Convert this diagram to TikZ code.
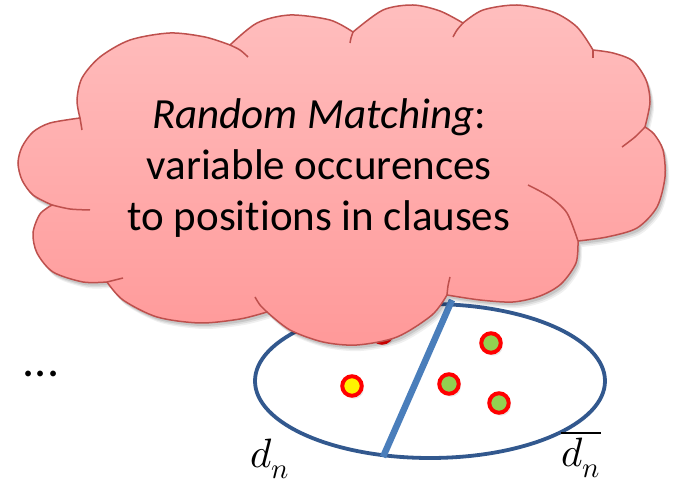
\documentclass[tikz,border=0pt]{standalone}
\usepackage{fontspec}
\usepackage{unicode-math}
\setmainfont{Carlito}[Ligatures=NoCommon]
\setmathfont{Latin Modern Math}
\usetikzlibrary{shadows}
\definecolor{cloudline}{RGB}{190,80,77}
\definecolor{cloudtop}{RGB}{255,190,190}
\definecolor{cloudbot}{RGB}{255,153,153}
\definecolor{ellblue}{RGB}{50,88,142}
\definecolor{divblue}{RGB}{74,126,187}
\definecolor{dotgreen}{RGB}{146,208,80}
\newcommand\cloudshape[1]{%
\path[#1]
 plot[smooth] coordinates {(80,118) (77,100) (82,78) (100,57) (130,40) (170,33) (205,37) (230,45)}
 -- plot[smooth] coordinates {(230,45) (257,23) (290,15) (330,20) (353,32)}
 -- plot[smooth] coordinates {(353,32) (383,10) (413,5) (440,11) (463,23)}
 -- plot[smooth] coordinates {(463,23) (483,10) (517,5) (553,12) (577,27) (593,50)}
 -- plot[smooth] coordinates {(593,50) (613,53) (633,61) (646,80) (650,102) (645,127)}
 -- plot[smooth] coordinates {(645,127) (654,134) (663,150) (665,177) (657,207) (637,228) (607,237) (578,241)}
 -- plot[smooth] coordinates {(578,241) (576,263) (561,284) (540,296) (513,302) (480,300) (447,295)}
 -- plot[smooth] coordinates {(447,295) (432,315) (397,337) (357,345) (323,342) (290,330) (267,312)}
 -- plot[smooth] coordinates {(267,312) (240,319) (200,323) (157,317) (123,300) (107,282)}
 -- plot[smooth] coordinates {(107,282) (83,282) (53,272) (37,253) (33,233) (40,214) (52,205)}
 -- plot[smooth] coordinates {(52,205) (33,195) (22,180) (18,163) (22,147) (33,132) (50,123) (80,118)}
 -- cycle;}
\tikzset{
  dotnode/.style={circle, draw=red, line width=4pt, minimum size=19.5pt, inner sep=0pt,
    drop shadow={opacity=0.18, shadow xshift=2pt, shadow yshift=-3pt}},
  innerarc/.style={draw=cloudline, line width=1.5pt},
  bigtext/.style={font=\fontsize{43}{51}\selectfont, align=center, inner sep=0pt},
  labeltext/.style={font=\fontsize{41}{45}\selectfont, inner sep=0pt, anchor=base}
}
\begin{document}
\begin{tikzpicture}[x=1pt, y=-1pt]
\useasboundingbox[fill=white] (0,0) rectangle (673,486);
% ellipse and divider
\draw[ellblue, line width=3.8pt] (430,381) ellipse (175pt and 77pt);
\coordinate (lbot) at (383,457);
\coordinate (ltop) at (452,300);
\draw[divblue, line width=6.5pt] (lbot) -- (ltop);
% dots
\node[dotnode, fill=red] (d0) at (382,333) {};
\node[dotnode, fill=yellow] (d1) at (352,386) {};
\node[dotnode, fill=dotgreen] (d2) at (449,384) {};
\node[dotnode, fill=dotgreen] (d3) at (491,343) {};
\node[dotnode, fill=dotgreen] (d4) at (499,403) {};
% cloud shadow
\begin{scope}[shift={(4,6)}]\cloudshape{fill=black, opacity=0.06}\end{scope}
\begin{scope}[shift={(3,4.5)}]\cloudshape{fill=black, opacity=0.08}\end{scope}
\begin{scope}[shift={(2,3)}]\cloudshape{fill=black, opacity=0.10}\end{scope}
% cloud
\cloudshape{top color=cloudtop, bottom color=cloudbot, draw=cloudline, line width=1.5pt}
% inner arcs of the cloud
\draw[innerarc] plot[smooth] coordinates {(80,118) (81,124) (82,130)};
\draw[innerarc] plot[smooth] coordinates {(52,205) (70,209) (90,210)};
\draw[innerarc] plot[smooth] coordinates {(107,282) (115,280) (123,278)};
\draw[innerarc] plot[smooth] coordinates {(267,312) (260,305) (255,297)};
\draw[innerarc] plot[smooth] coordinates {(447,295) (448,286) (450,277)};
\draw[innerarc] plot[smooth] coordinates {(578,241) (567,213) (550,197) (528,185)};
\draw[innerarc] plot[smooth] coordinates {(645,127) (635,137) (622,147)};
\draw[innerarc] plot[smooth] coordinates {(593,50) (593,54) (593,58)};
\draw[innerarc] plot[smooth] coordinates {(463,23) (457,30) (453,37)};
\draw[innerarc] plot[smooth] coordinates {(353,32) (351,38) (350,43)};
\draw[innerarc] plot[smooth] coordinates {(230,45) (240,50) (248,57)};
% text
\node[bigtext] (txt) at (319,168) {\textit{Random Matching}:\\variable occurences\\to positions in clauses};
\node[labeltext, font=\fontsize{48}{52}\selectfont] (dots) at (41,377) {...};
\node[labeltext] (dn) at (270,468) {$d_n$};
\node[labeltext] (dnbar) at (581,467) {$\overline{d_n}$};
\end{tikzpicture}
\end{document}
